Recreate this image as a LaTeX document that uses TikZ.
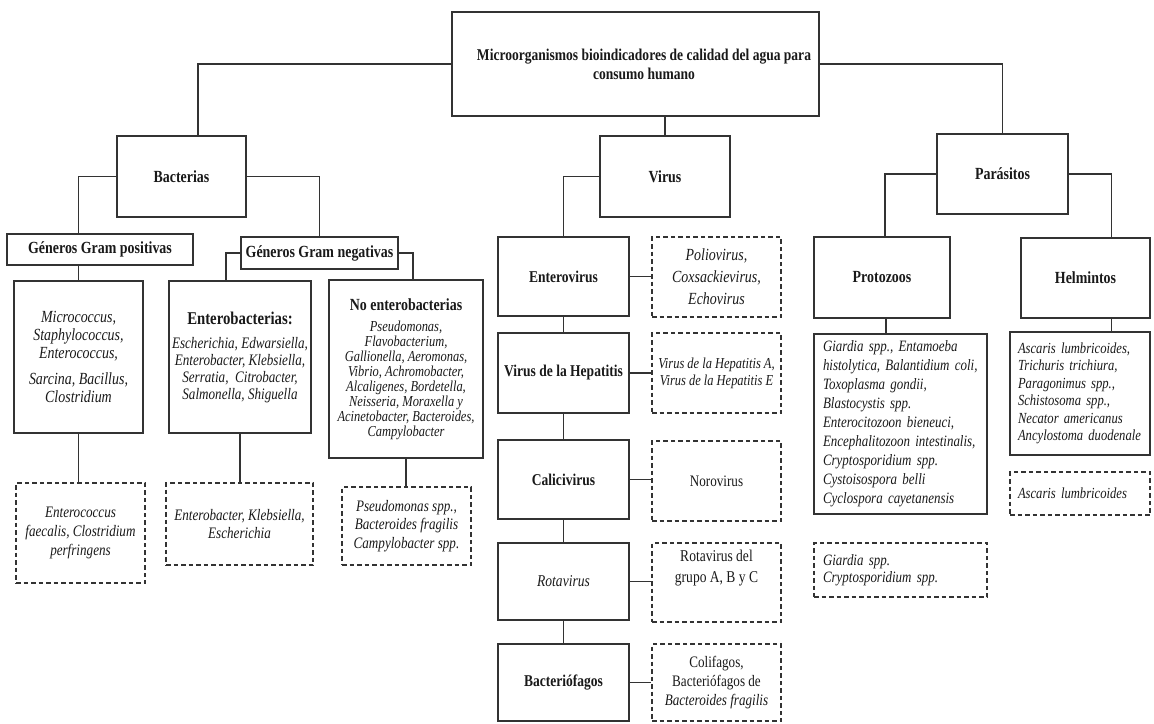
\documentclass[tikz,border=0pt]{standalone}
\usepackage{fontspec}
\setmainfont{Liberation Serif}[FakeStretch=0.82]
\hyphenpenalty=10000
\exhyphenpenalty=10000
\definecolor{lc}{gray}{0.2}
\definecolor{tc}{gray}{0.1}
\tikzset{
  box/.style={draw=lc, line width=1.5pt, inner sep=0pt, align=center, text=tc},
  dbox/.style={box, dash pattern=on 4.5pt off 3pt, line width=1.4pt},
  conn/.style={draw=lc, line width=1.3pt},
  hd/.style={font=\fontsize{17}{19}\selectfont\bfseries},
  vh/.style={font=\fontsize{16.5}{19}\selectfont\bfseries},
}
\begin{document}
\begin{tikzpicture}[x=1pt,y=-1pt]
\useasboundingbox (0,0) rectangle (1154,723);
% top
\node[box, minimum width=367pt, minimum height=104pt, font=\fontsize{16.5}{19}\selectfont\bfseries] (top) at (635.5,64)
  {\hspace*{17pt}Microorganismos bioindicadores de calidad del agua para\\\hspace*{17pt}consumo humano};
% level 1
\node[box, hd, minimum width=129pt, minimum height=81pt] (bact) at (181.5,176.5) {Bacterias};
\node[box, hd, minimum width=130pt, minimum height=81pt] (virus) at (665,176.5) {Virus};
\node[box, hd, minimum width=131pt, minimum height=80pt] (paras) at (1002.5,174) {Parásitos};
% bacteria
\node[box, hd, minimum width=186pt, minimum height=31pt] (gpos) at (100,249.5) {Géneros Gram positivas};
\node[box, hd, minimum width=157pt, minimum height=32pt] (gneg) at (319.5,253) {Géneros Gram negativas};
\node[box, minimum width=129pt, minimum height=152pt, font=\fontsize{17}{18}\selectfont\itshape] (micro) at (78.5,357)
  {Micrococcus,\\Staphylococcus,\\Enterococcus,\\[8pt]Sarcina, Bacillus,\\Clostridium};
\node[box, minimum width=142pt, minimum height=152pt, font=\fontsize{16}{17}\selectfont\itshape] (entb) at (240,357)
  {{\upshape\bfseries\fontsize{18}{19}\selectfont Enterobacterias:}\\[7pt]Escherichia, Edwarsiella,\\Enterobacter, Klebsiella,\\Serratia,\ \ Citrobacter,\\Salmonella, Shiguella};
\node[box, minimum width=154pt, minimum height=178pt, font=\fontsize{15.2}{15}\selectfont\itshape] (noent) at (406,369)
  {{\upshape\bfseries\fontsize{17}{18}\selectfont No enterobacterias}\\[6pt]Pseudomonas,\\Flavobacterium,\\Gallionella, Aeromonas,\\Vibrio, Achromobacter,\\Alcaligenes, Bordetella,\\Neisseria, Moraxella y\\Acinetobacter, Bacteroides,\\Campylobacter};
\node[dbox, minimum width=129pt, minimum height=100pt, font=\fontsize{16}{19}\selectfont\itshape] (d1) at (80.5,533)
  {Enterococcus\\faecalis, Clostridium\\perfringens};
\node[dbox, minimum width=147pt, minimum height=82pt, font=\fontsize{16}{18}\selectfont\itshape] (d2) at (239.5,524)
  {Enterobacter, Klebsiella,\\Escherichia};
\node[dbox, minimum width=129pt, minimum height=78pt, font=\fontsize{16}{18.5}\selectfont\itshape] (d3) at (406.5,526)
  {Pseudomonas spp.,\\Bacteroides fragilis\\Campylobacter spp.};
% virus column
\node[box, vh, minimum width=131pt, minimum height=79pt] (ent) at (563.5,276.5) {Enterovirus};
\node[box, vh, minimum width=131pt, minimum height=80pt] (hep) at (563.5,373) {Virus de la Hepatitis};
\node[box, vh, minimum width=131pt, minimum height=79pt] (cal) at (563.5,479.5) {Calicivirus};
\node[box, minimum width=131pt, minimum height=77pt, font=\fontsize{16.5}{19}\selectfont\itshape] (rot) at (563.5,581.5) {Rotavirus};
\node[box, vh, minimum width=131pt, minimum height=77pt] (bac) at (563.5,682.5) {Bacteriófagos};
\node[dbox, minimum width=129pt, minimum height=80pt, font=\fontsize{17}{22}\selectfont\itshape] (dpol) at (716.5,277)
  {Poliovirus,\\Coxsackievirus,\\Echovirus};
\node[dbox, minimum width=129pt, minimum height=80pt, font=\fontsize{15.2}{17}\selectfont\itshape] (dhep) at (716.5,373)
  {Virus de la Hepatitis A,\\Virus de la Hepatitis E};
\node[dbox, minimum width=129pt, minimum height=80pt, font=\fontsize{16}{19}\selectfont] (dnor) at (716.5,481) {Norovirus};
\node[dbox, minimum width=129pt, minimum height=79pt] (drot) at (716.5,582.5) {};
\node[align=center, text=tc, inner sep=0pt, font=\fontsize{16.5}{21}\selectfont] (drott) at (716.5,568) {Rotavirus del\\grupo A, B y C};
\node[dbox, minimum width=129pt, minimum height=77pt, font=\fontsize{16}{19}\selectfont] (dcol) at (716.5,682.5)
  {Colifagos,\\Bacteriófagos de\\\textit{Bacteroides fragilis}};
% parasites
\node[box, hd, minimum width=136pt, minimum height=81pt] (proto) at (882,277.5) {Protozoos};
\node[box, hd, minimum width=129pt, minimum height=80pt] (helm) at (1085.5,278) {Helmintos};
\node[box, align=left, text width=155pt, inner xsep=9pt, minimum height=180pt, font=\fontsize{15.8}{19}\selectfont\itshape] (protsp) at (900.5,424)
  {Giardia spp., Entamoeba\\histolytica, Balantidium coli,\\Toxoplasma gondii,\\Blastocystis spp.\\Enterocitozoon bieneuci,\\Encephalitozoon intestinalis,\\Cryptosporidium spp.\\Cystoisospora belli\\Cyclospora cayetanensis};
\node[box, align=left, text width=124pt, inner xsep=8pt, minimum height=123pt, font=\fontsize{15.4}{17.5}\selectfont\itshape] (helmsp) at (1080,393.5)
  {Ascaris lumbricoides,\\Trichuris trichiura,\\Paragonimus spp.,\\Schistosoma spp.,\\Necator americanus\\\mbox{Ancylostoma duodenale}};
\node[dbox, align=left, text width=124pt, inner xsep=8pt, minimum height=43pt, font=\fontsize{15.4}{17}\selectfont\itshape] (dasc) at (1080,493.5)
  {Ascaris lumbricoides};
\node[dbox, align=left, text width=155pt, inner xsep=9pt, minimum height=54pt, font=\fontsize{15.8}{17}\selectfont\itshape] (dgia) at (900.5,570)
  {Giardia spp.\\Cryptosporidium spp.};
% connectors
\draw[conn] (top.west) -| ([xshift=16.5pt]bact.north);
\draw[conn] (top.south -| virus.north) -- (virus.north);
\draw[conn] (top.east) -| (paras.north);
\draw[conn] (bact.west) -| (micro.north |- gpos.north);
\draw[conn] (bact.east) -| (gneg.north);
\draw[conn] (micro.north |- gpos.south) -- (micro.north);
\draw[conn] (gneg.west) -| ([xshift=-14pt]entb.north);
\draw[conn] (gneg.east) -| ([xshift=7pt]noent.north);
\draw[conn] (micro.south) -- (micro.south |- d1.north);
\draw[conn] (entb.south) -- (entb.south |- d2.north);
\draw[conn] (noent.south) -- (noent.south |- d3.north);
\draw[conn] (virus.west) -| (ent.north);
\draw[conn] (ent.south) -- (hep.north);
\draw[conn] (hep.south) -- (cal.north);
\draw[conn] (cal.south) -- (rot.north);
\draw[conn] (rot.south) -- (bac.north);
\draw[conn] (ent.east) -- (ent.east -| dpol.west);
\draw[conn] (hep.east) -- (hep.east -| dhep.west);
\draw[conn] (cal.east) -- (cal.east -| dnor.west);
\draw[conn] (rot.east) -- (rot.east -| drot.west);
\draw[conn] (bac.east) -- (bac.east -| dcol.west);
\draw[conn] (paras.west) -| ([xshift=3pt]proto.north);
\draw[conn] (paras.east) -| ([xshift=26pt]helm.north);
\draw[conn] ([xshift=4pt]proto.south) -- ([xshift=4pt]proto.south |- protsp.north);
\draw[conn] ([xshift=26pt]helm.south) -- ([xshift=26pt]helm.south |- helmsp.north);
\end{tikzpicture}
\end{document}
